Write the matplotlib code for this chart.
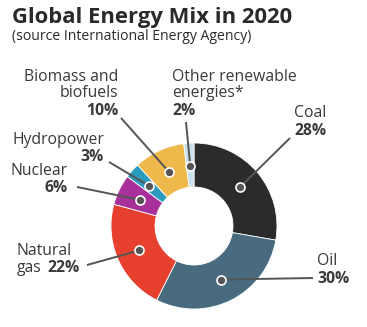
import numpy as np
import matplotlib
matplotlib.use("Agg")
import matplotlib.pyplot as plt

# Data
categories = ["Coal", "Oil", "Natural gas", "Nuclear", "Hydropower",
              "Biomass and biofuels", "Other renewable energies*"]
shares = [28, 30, 22, 6, 3, 10, 2]
pct_labels = ["28%", "30%", "22%", "6%", "3%", "10%", "2%"]
colors = ["#2b2b2b", "#486b80", "#e8402f", "#a8309a", "#2a9bbd", "#efb84a", "#c9e1ec"]

plt.rcParams['font.family'] = ['Open Sans', 'DejaVu Sans']
txt = "#3a3a3a"
line_c = "#555555"

W, H = 367, 327
fig = plt.figure(figsize=(W / 100, H / 100), dpi=100)
ax = fig.add_axes([0, 0, 1, 1])

cx, cy = 194, H - 226
r_out, r_in = 83, 39

wedges, _ = ax.pie(shares, colors=colors, startangle=90, counterclock=False,
                   radius=r_out, center=(cx, cy), frame=True,
                   wedgeprops=dict(width=r_out - r_in, edgecolor='white', linewidth=0.6))
ax.set_xlim(0, W)
ax.set_ylim(0, H)
ax.axis('off')

# label layout (pixel coords, y from top)
layout = [
    dict(name="Coal", nx=294, ny=113, ha='left', px=294, py=131, end=(290, 138)),
    dict(name="Oil", nx=317, ny=261, ha='left', px=317, py=279, end=(313, 278)),
    dict(name="Natural", nx=17, ny=251, ha='left', px=47, py=268, end=(87, 265)),
    dict(name="Nuclear", nx=68, ny=171, ha='right', px=68, py=188, end=(77, 187)),
    dict(name="Hydropower", nx=104, ny=140, ha='right', px=104, py=157, end=(109, 162)),
    dict(name="Biomass and\nbiofuels", nx=118, ny=85, ha='right', px=118, py=111, end=(121, 118)),
    dict(name="Other renewable\nenergies*", nx=172, ny=85, ha='left', px=172, py=111, end=(186, 122)),
]

fs = 11.3
for w, lay in zip(wedges, layout):
    ang = np.deg2rad((w.theta1 + w.theta2) / 2)
    r_mid = (r_out + r_in) / 2 - 1
    mx, my = cx + r_mid * np.cos(ang), cy + r_mid * np.sin(ang)
    ex, ey = lay['end'][0], H - lay['end'][1]
    ax.plot([mx, ex], [my, ey], color=line_c, lw=1.4, solid_capstyle='butt', zorder=3)
    ax.plot(mx, my, 'o', ms=6.5, mfc=line_c, mec='white', mew=1.2, zorder=4)
    ax.text(lay['nx'], H - lay['ny'], lay['name'], ha=lay['ha'], va='center',
            fontsize=fs, color=txt, linespacing=0.95)

for lay, p in zip(layout, pct_labels):
    ax.text(lay['px'], H - lay['py'], p, ha=lay['ha'], va='center',
            fontsize=fs, fontweight='bold', color=txt)

ax.text(17, H - 268, "gas", ha='left', va='center', fontsize=fs, color=txt)

fig.text(12 / W, 1 - 17 / H, "Global Energy Mix in 2020", ha='left', va='center',
         fontsize=15.8, fontweight='bold', color="#2a2a2a")
fig.text(12 / W, 1 - 36 / H, "(source International Energy Agency)", ha='left', va='center',
         fontsize=10.1, color="#2a2a2a")

fig.savefig("out.png", dpi=100)
